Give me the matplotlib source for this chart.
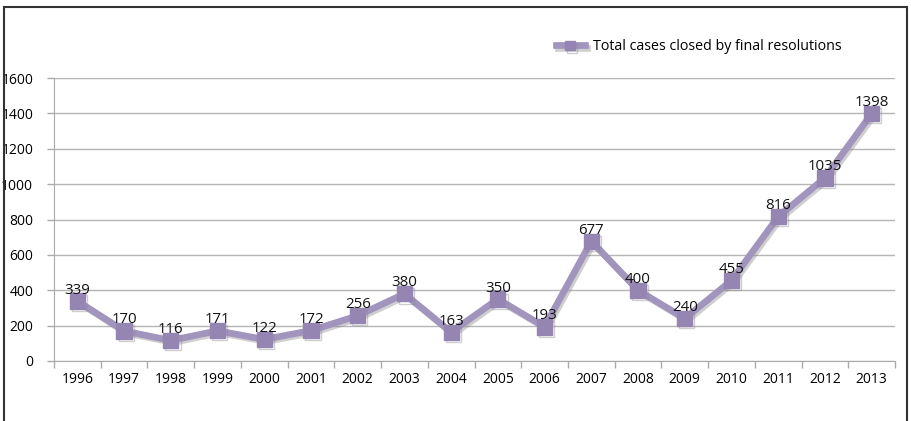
import matplotlib
matplotlib.use("Agg")
import matplotlib.pyplot as plt
from matplotlib.patches import Rectangle
import matplotlib.patheffects as pe

years = ["1996", "1997", "1998", "1999", "2000", "2001", "2002", "2003", "2004",
         "2005", "2006", "2007", "2008", "2009", "2010", "2011", "2012", "2013"]
values = [339, 170, 116, 171, 122, 172, 256, 380, 163, 350, 193, 677, 400, 240,
          455, 816, 1035, 1398]
yticks = [0, 200, 400, 600, 800, 1000, 1200, 1400, 1600]
series_name = "Total cases closed by final resolutions"

plt.rcParams['font.family'] = ['Open Sans', 'DejaVu Sans']

W, H = 911, 421
fig = plt.figure(figsize=(W / 100, H / 100), dpi=100)
ax = fig.add_axes([54 / W, 1 - 361 / H, (895 - 54) / W, (361 - 78) / H])

x = list(range(len(years)))
line_color = "#a194bd"
marker_color = "#9485b3"
shadow = [pe.SimpleLineShadow(offset=(1.5, -1.5), shadow_color="#888888", alpha=0.4), pe.Normal()]
ax.plot(x, values, color=line_color, lw=4.8, marker="s", ms=11,
        markerfacecolor=marker_color, markeredgecolor=marker_color,
        label=series_name, path_effects=shadow, zorder=3, solid_joinstyle="miter")

for xi, v in zip(x, values):
    ax.annotate(str(v), (xi, v), xytext=(0, 2.5), textcoords="offset points",
                ha="center", va="bottom", fontsize=10.8, color="#111111", zorder=4)

ax.set_xlim(-0.5, len(years) - 0.5)
ax.set_ylim(0, 1600)
ax.set_yticks(yticks)
ax.set_yticklabels([str(t) for t in yticks])
ax.set_xticks(x)
ax.set_xticklabels(years)
ax.set_xticks([i - 0.5 for i in range(len(years) + 1)], minor=True)
ax.tick_params(axis="x", which="major", length=0, pad=8, labelsize=10)
ax.tick_params(axis="x", which="minor", length=5, color="#aaaaaa", width=1)
ax.tick_params(axis="y", length=5, color="#aaaaaa", width=1, pad=10, labelsize=10)
ax.grid(axis="y", color="#b5b5b5", lw=1)
ax.set_axisbelow(True)
for s in ["top", "right"]:
    ax.spines[s].set_visible(False)
ax.spines["left"].set_color("#aaaaaa")
ax.spines["bottom"].set_color("#aaaaaa")

leg = ax.legend(loc="center left", bbox_to_anchor=(556 / W, 1 - 47 / H),
                bbox_transform=fig.transFigure, frameon=False, fontsize=10.3,
                handlelength=2.0, handletextpad=0.6, borderaxespad=0,
                borderpad=0, markerscale=0.65)

fig.patches.append(Rectangle((3.5 / W, -0.05), (907 - 3.5) / W, 1.05 - 7.5 / H,
                             transform=fig.transFigure, fill=False,
                             edgecolor="#333333", lw=1.5))

fig.savefig("out.png", dpi=100)
